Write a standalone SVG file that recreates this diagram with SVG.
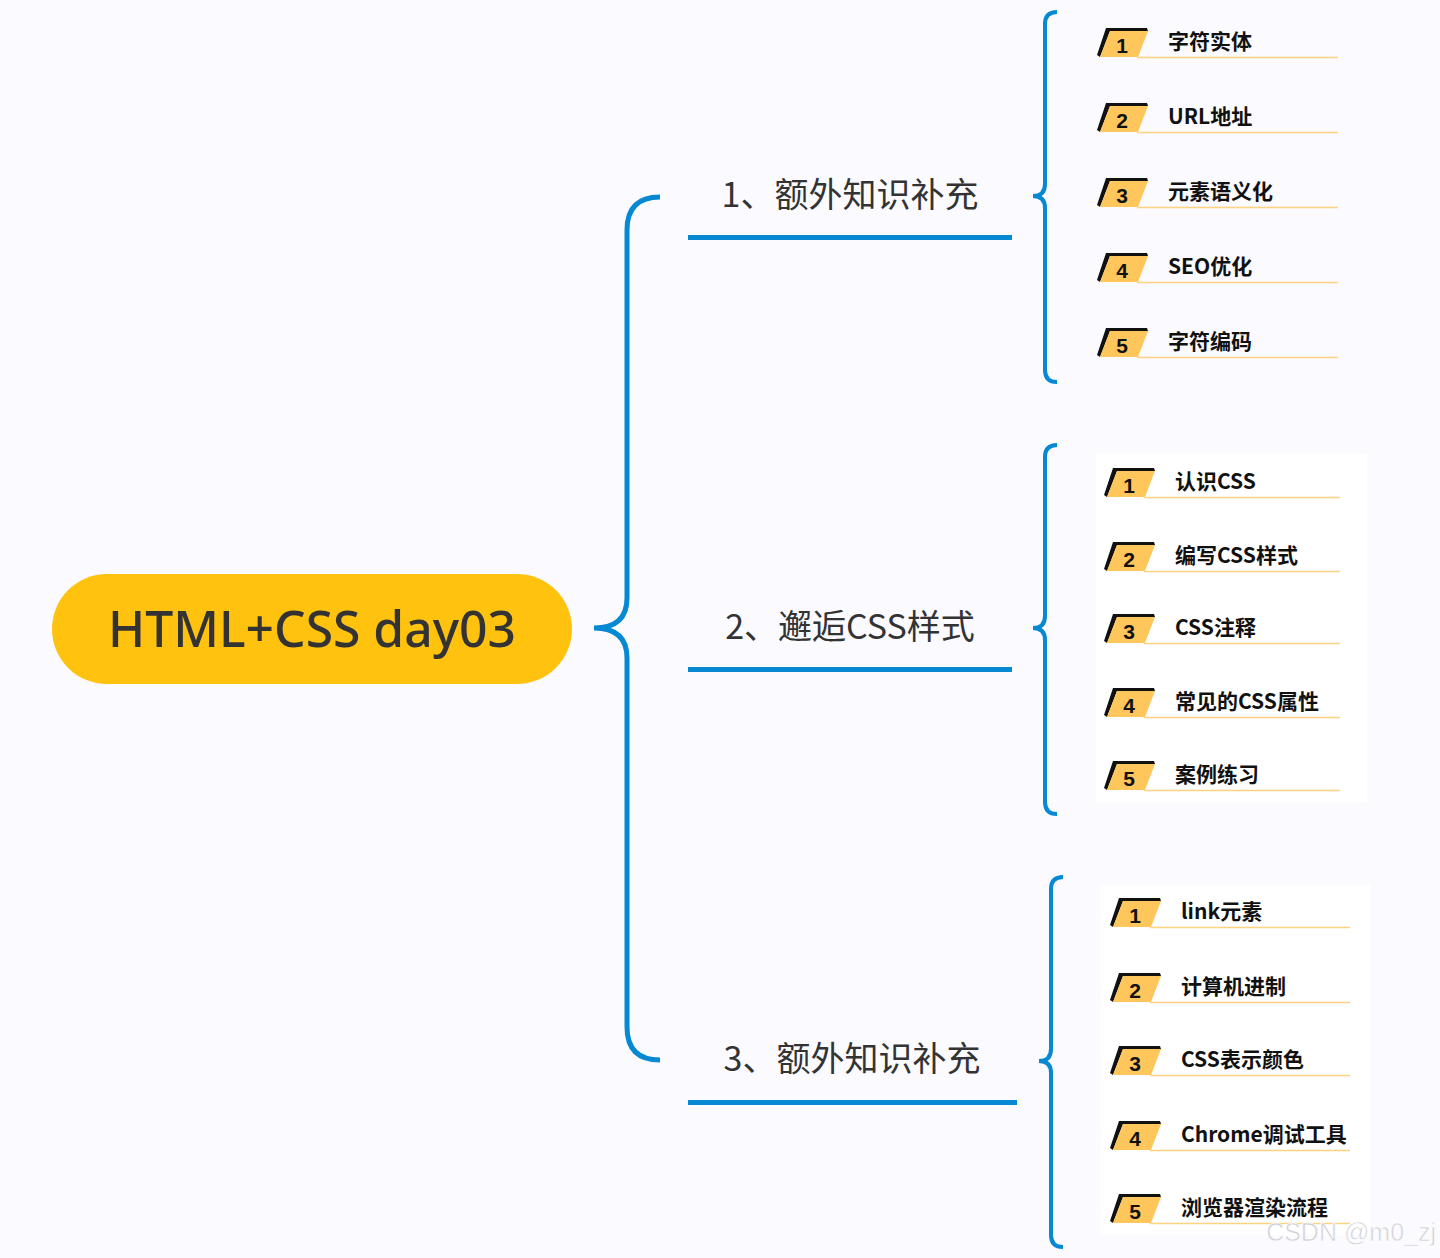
<svg xmlns="http://www.w3.org/2000/svg" xmlns:xlink="http://www.w3.org/1999/xlink" width="1440" height="1258" viewBox="0 0 1440 1258">
<style>
.brace{fill:none;stroke:#0688D2;stroke-width:5;stroke-linecap:butt}
.sbrace{fill:none;stroke:#0688D2;stroke-width:4}
.bl{stroke:#0688D2;stroke-width:5}
.ul{stroke:#FFD27F;stroke-width:1.5}
.branch{font-family:"Noto Sans CJK SC","Noto Sans",sans-serif;font-size:34px;fill:#333333;text-anchor:middle}
.item{font-family:"Noto Sans CJK SC","Noto Sans",sans-serif;font-size:21px;font-weight:bold;fill:#111111}
.num{font-family:"Liberation Sans",Arial,sans-serif;font-size:21px;font-weight:bold;fill:#111111;text-anchor:middle}
.root{font-family:"Noto Sans","Open Sans",sans-serif;font-size:50px;font-weight:500;fill:#333333;text-anchor:middle}
</style>
<defs>
<g id="badge">
<polygon points="-3,-2 6,-29 47,-29 48,-26 10,-26 0,0" fill="#111111"/>
<polygon points="0,0 10,-26 48,-26 38,0" fill="#FFC65C"/>
</g>
</defs>
<rect width="1440" height="1258" fill="#FAFAFF"/>
<rect x="1096" y="453" width="271" height="350" fill="#FFFFFF"/>
<rect x="1101" y="885" width="269" height="350" fill="#FFFFFF"/>

<g id="connectors">
<path class="brace" d="M660,197 Q627,197 627,230 L627,598 Q627,628 594,628 Q627,628 627,658 L627,1027 Q627,1060 660,1060"/>
<path class="sbrace" d="M1057,12 Q1045,12 1045,24 L1045,184 Q1045,196 1033,196 Q1045,196 1045,208 L1045,370 Q1045,382 1057,382"/>
<path class="sbrace" d="M1057,445 Q1045,445 1045,457 L1045,616 Q1045,628 1033,628 Q1045,628 1045,640 L1045,802 Q1045,814 1057,814"/>
<path class="sbrace" d="M1063,877 Q1051,877 1051,889 L1051,1049 Q1051,1061 1039,1061 Q1051,1061 1051,1073 L1051,1235 Q1051,1247 1063,1247"/>
</g>

<g id="root">
<rect x="52" y="574" width="520" height="110" rx="55" ry="55" fill="#FFC20E"/>
<text class="root" x="312" y="647" textLength="408" lengthAdjust="spacingAndGlyphs">HTML+CSS day03</text>
</g>

<g id="branch1">
<text class="branch" x="850" y="207">1、额外知识补充</text>
<line class="bl" x1="688" y1="237.5" x2="1012" y2="237.5"/>
</g>
<g id="branch2">
<text class="branch" x="850" y="639">2、邂逅CSS样式</text>
<line class="bl" x1="688" y1="669.5" x2="1012" y2="669.5"/>
</g>
<g id="branch3">
<text class="branch" x="852" y="1071">3、额外知识补充</text>
<line class="bl" x1="688" y1="1102.5" x2="1017" y2="1102.5"/>
</g>

<g id="g1i1" transform="translate(1100,57)"><use xlink:href="#badge"/><text class="num" x="22" y="-4">1</text><text class="item" x="68" y="-8">字符实体</text><line class="ul" x1="37" y1="0.5" x2="238" y2="0.5"/></g>
<g id="g1i2" transform="translate(1100,132)"><use xlink:href="#badge"/><text class="num" x="22" y="-4">2</text><text class="item" x="68" y="-8">URL地址</text><line class="ul" x1="37" y1="0.5" x2="238" y2="0.5"/></g>
<g id="g1i3" transform="translate(1100,207)"><use xlink:href="#badge"/><text class="num" x="22" y="-4">3</text><text class="item" x="68" y="-8">元素语义化</text><line class="ul" x1="37" y1="0.5" x2="238" y2="0.5"/></g>
<g id="g1i4" transform="translate(1100,282)"><use xlink:href="#badge"/><text class="num" x="22" y="-4">4</text><text class="item" x="68" y="-8">SEO优化</text><line class="ul" x1="37" y1="0.5" x2="238" y2="0.5"/></g>
<g id="g1i5" transform="translate(1100,357)"><use xlink:href="#badge"/><text class="num" x="22" y="-4">5</text><text class="item" x="68" y="-8">字符编码</text><line class="ul" x1="37" y1="0.5" x2="238" y2="0.5"/></g>

<g id="g2i1" transform="translate(1107,497)"><use xlink:href="#badge"/><text class="num" x="22" y="-4">1</text><text class="item" x="68" y="-8">认识CSS</text><line class="ul" x1="37" y1="0.5" x2="233" y2="0.5"/></g>
<g id="g2i2" transform="translate(1107,571)"><use xlink:href="#badge"/><text class="num" x="22" y="-4">2</text><text class="item" x="68" y="-8">编写CSS样式</text><line class="ul" x1="37" y1="0.5" x2="233" y2="0.5"/></g>
<g id="g2i3" transform="translate(1107,643)"><use xlink:href="#badge"/><text class="num" x="22" y="-4">3</text><text class="item" x="68" y="-8">CSS注释</text><line class="ul" x1="37" y1="0.5" x2="233" y2="0.5"/></g>
<g id="g2i4" transform="translate(1107,717)"><use xlink:href="#badge"/><text class="num" x="22" y="-4">4</text><text class="item" x="68" y="-8">常见的CSS属性</text><line class="ul" x1="37" y1="0.5" x2="233" y2="0.5"/></g>
<g id="g2i5" transform="translate(1107,790)"><use xlink:href="#badge"/><text class="num" x="22" y="-4">5</text><text class="item" x="68" y="-8">案例练习</text><line class="ul" x1="37" y1="0.5" x2="233" y2="0.5"/></g>

<g id="g3i1" transform="translate(1113,927)"><use xlink:href="#badge"/><text class="num" x="22" y="-4">1</text><text class="item" x="68" y="-8">link元素</text><line class="ul" x1="37" y1="0.5" x2="237" y2="0.5"/></g>
<g id="g3i2" transform="translate(1113,1002)"><use xlink:href="#badge"/><text class="num" x="22" y="-4">2</text><text class="item" x="68" y="-8">计算机进制</text><line class="ul" x1="37" y1="0.5" x2="237" y2="0.5"/></g>
<g id="g3i3" transform="translate(1113,1075)"><use xlink:href="#badge"/><text class="num" x="22" y="-4">3</text><text class="item" x="68" y="-8">CSS表示颜色</text><line class="ul" x1="37" y1="0.5" x2="237" y2="0.5"/></g>
<g id="g3i4" transform="translate(1113,1150)"><use xlink:href="#badge"/><text class="num" x="22" y="-4">4</text><text class="item" x="68" y="-8">Chrome调试工具</text><line class="ul" x1="37" y1="0.5" x2="237" y2="0.5"/></g>
<g id="g3i5" transform="translate(1113,1223)"><use xlink:href="#badge"/><text class="num" x="22" y="-4">5</text><text class="item" x="68" y="-8">浏览器渲染流程</text><line class="ul" x1="37" y1="0.5" x2="237" y2="0.5"/></g>

<text x="1436" y="1241" text-anchor="end" font-family="Liberation Sans,Arial,sans-serif" font-size="25" fill="#D0D0D4" stroke="#FFFFFF" stroke-width="0.6">CSDN @m0_zj</text>
</svg>
